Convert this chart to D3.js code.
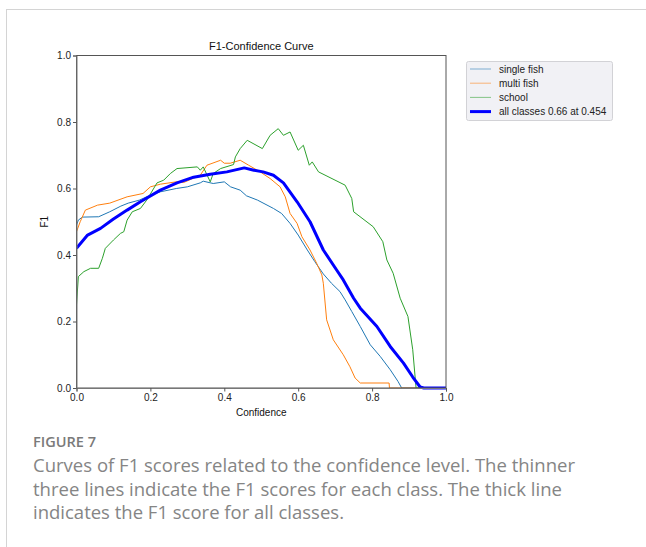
<!DOCTYPE html>
<html>
<head>
<meta charset="utf-8">
<script src="https://cdn.jsdelivr.net/npm/d3@7"></script>
<style>
  html, body { margin: 0; padding: 0; background: #fff; }
  svg { display: block; }
</style>
</head>
<body>
<svg id="chart" width="646" height="547"></svg>
<script>
// F1 score against confidence threshold, one series per class plus the combined curve.
const xTicks = [0.0, 0.2, 0.4, 0.6, 0.8, 1.0];
const yTicks = [0.0, 0.2, 0.4, 0.6, 0.8, 1.0];

const seriesNames = ["single fish", "multi fish", "school", "all classes 0.66 at 0.454"];

const singleFish = [
  [0,0.49],[0.005,0.505],[0.016,0.514],[0.06,0.515],[0.09,0.53],[0.12,0.547],[0.14,0.556],
  [0.17,0.565],[0.2,0.58],[0.227,0.59],[0.27,0.60],[0.3,0.605],[0.335,0.617],[0.343,0.622],
  [0.37,0.615],[0.4,0.62],[0.417,0.605],[0.443,0.595],[0.46,0.578],[0.49,0.565],[0.533,0.54],
  [0.555,0.525],[0.578,0.495],[0.6,0.46],[0.623,0.418],[0.645,0.38],[0.668,0.343],[0.69,0.315],
  [0.713,0.29],[0.727,0.265],[0.745,0.23],[0.768,0.185],[0.795,0.13],[0.822,0.095],
  [0.849,0.055],[0.87,0.02],[0.88,0],[1,0]
];

const multiFish = [
  [0,0.47],[0.01,0.5],[0.024,0.535],[0.057,0.55],[0.09,0.556],[0.137,0.575],[0.18,0.585],
  [0.2,0.605],[0.227,0.613],[0.27,0.62],[0.29,0.618],[0.335,0.64],[0.353,0.67],[0.39,0.685],
  [0.4,0.676],[0.416,0.676],[0.443,0.685],[0.466,0.67],[0.497,0.65],[0.524,0.63],[0.551,0.605],
  [0.565,0.575],[0.578,0.525],[0.597,0.495],[0.61,0.455],[0.632,0.415],[0.65,0.375],
  [0.664,0.34],[0.668,0.315],[0.677,0.205],[0.695,0.145],[0.722,0.10],[0.74,0.064],
  [0.754,0.03],[0.768,0.015],[0.846,0.015],[0.847,0],[1,0]
];

const school = [
  [0,0.25],[0.005,0.335],[0.02,0.35],[0.038,0.36],[0.06,0.36],[0.07,0.39],[0.078,0.42],
  [0.1,0.445],[0.119,0.465],[0.128,0.47],[0.137,0.505],[0.151,0.53],[0.173,0.54],[0.19,0.565],
  [0.218,0.617],[0.236,0.625],[0.254,0.645],[0.272,0.66],[0.327,0.665],[0.335,0.655],
  [0.343,0.665],[0.362,0.62],[0.37,0.645],[0.39,0.66],[0.425,0.672],[0.43,0.695],[0.443,0.72],
  [0.462,0.745],[0.503,0.72],[0.524,0.76],[0.546,0.78],[0.56,0.76],[0.578,0.77],[0.6,0.715],
  [0.614,0.73],[0.63,0.67],[0.638,0.68],[0.655,0.65],[0.727,0.61],[0.745,0.57],[0.75,0.53],
  [0.803,0.485],[0.829,0.44],[0.84,0.385],[0.857,0.345],[0.876,0.27],[0.897,0.215],
  [0.91,0.115],[0.919,0],[1,0]
];

const allClasses = [
  [0,0.42],[0.03,0.46],[0.065,0.48],[0.1,0.508],[0.137,0.535],[0.173,0.56],[0.227,0.595],
  [0.272,0.617],[0.317,0.634],[0.362,0.643],[0.407,0.65],[0.454,0.662],[0.48,0.655],
  [0.505,0.65],[0.533,0.64],[0.56,0.617],[0.597,0.56],[0.632,0.5],[0.668,0.415],[0.704,0.355],
  [0.722,0.325],[0.75,0.27],[0.768,0.24],[0.813,0.185],[0.849,0.125],[0.885,0.075],
  [0.91,0.033],[0.93,0.003],[0.94,0],[1,0]
];

const captionTitle = "FIGURE 7";
const captionLines = [
  "Curves of F1 scores related to the confidence level. The thinner",
  "three lines indicate the F1 scores for each class. The thick line",
  "indicates the F1 score for all classes."
];

const series = [
  { name: seriesNames[0], values: singleFish, color: "#1f77b4", width: 1 },
  { name: seriesNames[1], values: multiFish, color: "#ff7f0e", width: 1 },
  { name: seriesNames[2], values: school, color: "#2ca02c", width: 1 },
  { name: seriesNames[3], values: allClasses, color: "#0000ff", width: 3 }
];

const svg = d3.select("#chart");
const font = "'Liberation Sans', Arial, sans-serif";

// page frame lines
svg.append("line").attr("x1", 6).attr("x2", 646).attr("y1", 9.5).attr("y2", 9.5)
  .attr("stroke", "#d4d4d4").attr("stroke-width", 1);
svg.append("line").attr("x1", 6.5).attr("x2", 6.5).attr("y1", 9).attr("y2", 547)
  .attr("stroke", "#d4d4d4").attr("stroke-width", 1);

const plot = { left: 76.5, right: 446, top: 55.5, bottom: 388 };

const x = d3.scaleLinear().domain([0, 1]).range([plot.left, plot.right]);
const y = d3.scaleLinear().domain([0, 1]).range([plot.bottom, plot.top]);

const g = svg.append("g");

g.append("defs").append("clipPath").attr("id", "plotClip")
  .append("rect").attr("x", plot.left).attr("y", plot.top - 2)
  .attr("width", plot.right - plot.left).attr("height", plot.bottom - plot.top + 4);

const line = d3.line().x(d => x(d[0])).y(d => y(d[1]));

g.append("g").attr("clip-path", "url(#plotClip)")
  .selectAll("path").data(series).join("path")
  .attr("d", d => line(d.values))
  .attr("fill", "none")
  .attr("stroke", d => d.color)
  .attr("stroke-width", d => d.width)
  .attr("stroke-linejoin", "round");

// frame
g.append("rect").attr("x", plot.left).attr("y", plot.top)
  .attr("width", plot.right - plot.left).attr("height", plot.bottom - plot.top)
  .attr("fill", "none").attr("stroke", "#555").attr("stroke-width", 1);

const xAxis = d3.axisBottom(x).tickValues(xTicks).tickFormat(d3.format(".1f")).tickSize(3.5).tickPadding(2);
const yAxis = d3.axisLeft(y).tickValues(yTicks).tickFormat(d3.format(".1f")).tickSize(3.5).tickPadding(2);

const gx = g.append("g").attr("transform", `translate(0,${plot.bottom})`).call(xAxis);
const gy = g.append("g").attr("transform", `translate(${plot.left},0)`).call(yAxis);
[gx, gy].forEach(a => {
  a.select(".domain").attr("stroke", "#777");
  a.selectAll(".tick line").attr("stroke", "#555");
  a.selectAll("text").attr("font-family", font).attr("font-size", 10).attr("fill", "#222");
});

// title and axis labels
g.append("text").attr("x", (plot.left + plot.right) / 2).attr("y", 50)
  .attr("text-anchor", "middle").attr("font-family", font).attr("font-size", 11)
  .attr("fill", "#111").text("F1-Confidence Curve");
g.append("text").attr("x", (plot.left + plot.right) / 2).attr("y", 416)
  .attr("text-anchor", "middle").attr("font-family", font).attr("font-size", 10)
  .attr("fill", "#111").text("Confidence");
g.append("text").attr("transform", `translate(48,${(plot.top + plot.bottom) / 2}) rotate(-90)`)
  .attr("text-anchor", "middle").attr("font-family", font).attr("font-size", 10)
  .attr("fill", "#111").text("F1");

// legend
const legend = g.append("g").attr("transform", "translate(466,61)");
legend.append("rect").attr("x", 0.5).attr("y", 0.5).attr("width", 146).attr("height", 59)
  .attr("rx", 2).attr("fill", "#f1f1f5").attr("stroke", "#d2d2d6");
const rows = legend.selectAll("g.row").data(series).join("g")
  .attr("class", "row")
  .attr("transform", (d, i) => `translate(0,${8 + i * 14.2})`);
rows.append("line").attr("x1", 4).attr("x2", 25).attr("y1", 0).attr("y2", 0)
  .attr("stroke", d => d.color).attr("stroke-width", d => d.width)
  .attr("stroke-opacity", d => d.width > 1 ? 1 : 0.55);
rows.append("text").attr("x", 33).attr("y", 3.5)
  .attr("font-family", font).attr("font-size", 10).attr("fill", "#222")
  .text(d => d.name);

// caption
const capX = 33;
svg.append("text").attr("x", capX).attr("y", 447)
  .attr("font-family", "'Open Sans', sans-serif").attr("font-size", 14)
  .attr("font-weight", 600).attr("fill", "#7a7a7a")
  .attr("textLength", 63).attr("lengthAdjust", "spacingAndGlyphs")
  .text(captionTitle);
const capWidths = [542, 529, 311];
svg.selectAll("text.cap").data(captionLines).join("text")
  .attr("class", "cap")
  .attr("x", capX).attr("y", (d, i) => 472 + i * 23.5)
  .attr("font-family", "'Open Sans', sans-serif").attr("font-size", 18)
  .attr("fill", "#858585")
  .attr("textLength", (d, i) => capWidths[i]).attr("lengthAdjust", "spacingAndGlyphs")
  .text(d => d);
</script>
</body>
</html>
